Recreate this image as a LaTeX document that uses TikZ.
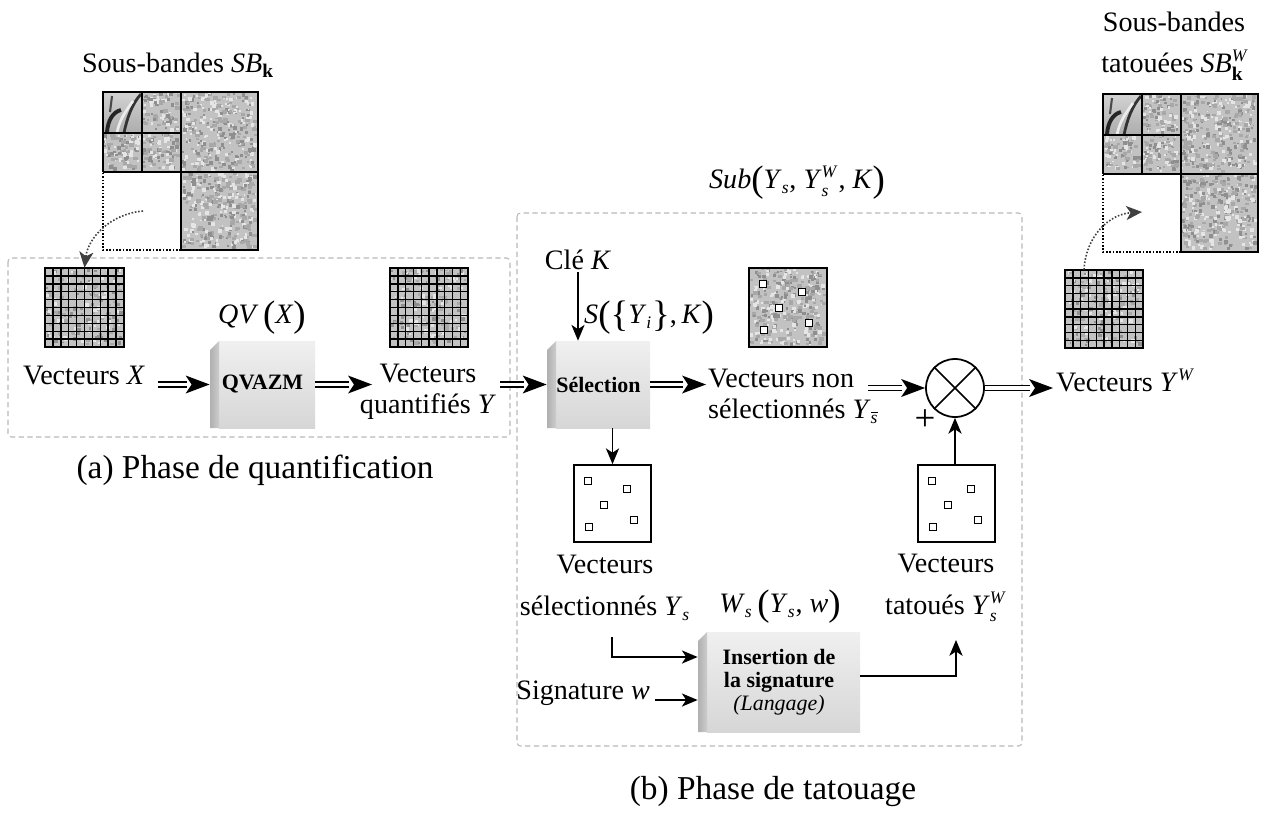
\documentclass[tikz,border=0pt]{standalone}
\usepackage{fontspec}
\setmainfont{Liberation Serif}
\usetikzlibrary{arrows.meta,calc}

\newcommand\tsm[1]{\mbox{\fontsize{10}{10}\selectfont\textit{#1}}}
\newcommand\kbf{\mbox{\fontsize{11}{11}\selectfont\bfseries k}}
\newcommand\BP[1]{{\fontsize{21}{21}\selectfont\raisebox{-0.08em}{#1}}}
\newcommand\iY{\mbox{\textit{Y}}}
\newcommand\Ys{$\iY_{\tsm{s}}$}
\newcommand\Ysb{$\iY_{\overline{\tsm{s}}}$}
\newcommand\YsW{$\iY^{\tsm{W}}_{\tsm{s}}$}
\newcommand\YW{$\iY^{\tsm{W}}$}

\tikzset{
  dashbox/.style={draw=gray!55, line width=0.6pt, dash pattern=on 3pt off 2pt, rounded corners=2pt},
  dline/.style={draw=black, double=white, double distance=2.2pt, line width=0.8pt, shorten >=13pt},
  sarrow/.style={-{Stealth[length=9pt,width=7.5pt,inset=2.5pt]}, line width=0.8pt},
  dotarrow/.style={densely dotted, draw=black!75, line width=0.9pt, -{Stealth[length=9pt,width=8pt,inset=2.5pt]}},
  lbl/.style={inner sep=1pt},
  box3d/.style={inner sep=0pt, font=\fontsize{12.5}{13}\selectfont\bfseries, align=center},
  anchorbox/.style={inner sep=0pt, draw=none},
  whitebox/.style={draw, line width=1pt, fill=white, inner sep=0pt, minimum size=1.54cm},
  captionlbl/.style={font=\fontsize{19}{22}\selectfont, inner sep=1pt}
}

% double arrow pointing right: double shaft + filled concave head
\newcommand\dblarrow[2]{\draw[dline] (#1) -- (#2);
  \fill ($(#2)+(-24,-9)$) -- (#2) -- ($(#2)+(-24,9)$) -- ($(#2)+(-18,0)$) -- cycle;}

\newcommand\noisefill[5]{%
  \fill[gray!48] (#1,#2) rectangle (#3,#4);
  \foreach \k in {1,...,#5}{%
    \pgfmathsetmacro\nxa{#1+rnd*(#3-#1-4)}%
    \pgfmathsetmacro\nya{#2+rnd*(#4-#2-4)}%
    \pgfmathsetmacro\nsa{1.5+rnd*2.5}%
    \fill[gray!88] (\nxa,\nya) rectangle ++(\nsa,\nsa);
    \pgfmathsetmacro\nxb{#1+rnd*(#3-#1-4)}%
    \pgfmathsetmacro\nyb{#2+rnd*(#4-#2-4)}%
    \fill[gray!20] (\nxb,\nyb) rectangle ++(\nsa,\nsa);
    \pgfmathsetmacro\nxc{#1+rnd*(#3-#1-4)}%
    \pgfmathsetmacro\nyc{#2+rnd*(#4-#2-4)}%
    \fill[gray!68] (\nxc,\nyc) rectangle ++(\nsa+1,\nsa);
  }%
}

\newcommand\gridimg[4]{%
  \noisefill{#1}{#2}{#3}{#4}{60}
  \foreach \i in {1,...,9}{%
    \draw[line width=0.8pt] ({#1+\i*(#3-#1)/10},#2) -- ({#1+\i*(#3-#1)/10},#4);
    \draw[line width=0.8pt] (#1,{#2+\i*(#4-#2)/10}) -- (#3,{#2+\i*(#4-#2)/10});
  }
  \draw[line width=1.1pt] (#1,#2) rectangle (#3,#4);
}

\newcommand\sqpat[2]{%
  \begin{scope}[shift={(#1,#2)}]
    \foreach \a/\b in {14/16,53/24,30/40,60/55,15/62}
      \draw[fill=white, line width=0.75pt] (\a-3.5,\b-3.5) rectangle ++(7,7);
  \end{scope}
}

\newcommand\subbandpic{%
  \noisefill{142}{92}{181}{133}{30}
  \noisefill{103}{133}{142}{172}{30}
  \noisefill{142}{133}{181}{172}{30}
  \noisefill{181}{92}{258}{172}{110}
  \noisefill{181}{172}{258}{250}{110}
  \shade[top color=gray!35,bottom color=gray!65] (103,92) rectangle (142,133);
  \draw[line width=2.2pt,black!85] (107,132) .. controls (108,120) and (113,112) .. (121,110);
  \draw[line width=1.6pt,black!80] (124,133) .. controls (127,118) and (132,104) .. (141,94);
  \draw[line width=1.5pt,white!85!gray] (117,133) .. controls (119,121) and (125,112) .. (133,101);
  \draw[line width=1.2pt,black!70] (112,96) -- (110,112);
  \draw[line width=1.1pt] (103,172) -- (103,92) -- (258,92) -- (258,250) -- (181,250) -- (181,92);
  \draw[line width=1.1pt] (103,172) -- (258,172);
  \draw[line width=1.1pt] (142,92) -- (142,172);
  \draw[line width=1.1pt] (103,133) -- (181,133);
  \draw[densely dotted, line width=0.9pt] (181,250) -- (103,250) -- (103,172);
}

\newcommand\boxtd[6]{%
  \shade[top color=gray!12, bottom color=gray!32] (#2+9,#3) rectangle (#4,#5);
  \shade[left color=gray!62, right color=gray!40] (#2,#3+9) -- (#2+9,#3) -- (#2+9,#5) -- (#2,#5) -- cycle;
  \node[box3d, minimum width={(#4-#2)*0.02cm}, minimum height={(#5-#3)*0.02cm}] (#1) at ({(#2+#4)/2},{(#3+#5)/2}) {#6};
}

\begin{document}
\begin{tikzpicture}[x=0.02cm,y=-0.02cm, font=\fontsize{16}{19}\selectfont]
\useasboundingbox (0,0) rectangle (1262,815);
\fill[white] (0,0) rectangle (1262,815);
\pgfmathsetseed{11}

% dashed phase boxes
\draw[dashbox] (8,258) rectangle (510,437);
\draw[dashbox] (517,213) rectangle (1022,746);

% ---------- left sub-bands ----------
\subbandpic
\node[anchorbox, minimum width=3.1cm, minimum height=3.16cm] (sbA) at (180.5,171) {};
\node[lbl] (labA) at (178,65) {Sous-bandes $\mbox{\textit{SB}}_{\kbf}$};

% ---------- quantisation ----------
\gridimg{45}{268}{124}{347}
\node[anchorbox, minimum size=1.58cm] (gX) at (84.5,307.5) {};
\node[lbl] (tX) at (84,376) {Vecteurs \textit{X}};
\node[lbl] (qvl) at (262,318) {\textit{QV}\,\BP{(}\textit{X}\BP{)}};
\boxtd{qv}{210}{341}{315}{428}{QVAZM}
\gridimg{390}{268}{468}{347}
\node[anchorbox, minimum size=1.57cm] (gY) at (429,307.5) {};
\node[lbl, align=center, font=\fontsize{16}{17.6}\selectfont] (tY) at (428,392) {Vecteurs\\quantifiés \textit{Y}};
\node[captionlbl] (capA) at (255,470) {(a) Phase de quantification};

% ---------- watermarking ----------
\node[lbl] (subl) at (797,183) {\textit{Sub}\BP{(}\Ys, \YsW, \textit{K}\BP{)}};
\node[lbl] (cle) at (578,260) {Clé \textit{K}};
\node[lbl] (sl) at (649,318) {\textit{S}\BP{(}\BP{\{}\textit{Y}$_{\tsm{i}}$\BP{\}},\,\textit{K}\BP{)}};
\boxtd{sel}{547}{341}{650}{428}{Sélection}

\noisefill{749}{268}{827}{347}{110}
\draw[line width=1.1pt] (749,268) rectangle (827,347);
\sqpat{749}{268}
\node[anchorbox, minimum width=1.56cm, minimum height=1.58cm] (nimg) at (788,307.5) {};
\node[lbl, anchor=west, align=left, font=\fontsize{16}{18}\selectfont] (tns) at (706,396) {Vecteurs non\\sélectionnés \Ysb};

\node[circle, draw, line width=1pt, minimum size=1.16cm, inner sep=0pt] (ot) at (955,388) {};
\draw[line width=0.9pt] (ot.north west) -- (ot.south east) (ot.north east) -- (ot.south west);
\node[lbl, font=\fontsize{21}{21}\selectfont] (plus) at (925,420) {+};

\node[whitebox] (smL) at (612.5,503.5) {};
\sqpat{574}{465}
\node[whitebox] (smR) at (956.5,503.5) {};
\sqpat{918}{465}

\node[lbl, align=center, font=\fontsize{16}{24}\selectfont] (tvs) at (605,588) {Vecteurs\\sélectionnés \Ys};
\node[lbl, align=center, font=\fontsize{16}{24}\selectfont] (tvw) at (946,588) {Vecteurs\\tatoués \YsW};
\node[lbl] (wsl) at (780,607) {\textit{W}$_{\tsm{s}}$\,\BP{(}\Ys, \textit{w}\BP{)}};

\boxtd{ins}{698}{632}{860}{732}{Insertion de\\la signature\\{\mdseries\itshape (Langage)}}
\node[lbl, anchor=east] (sig) at (652,693) {Signature \textit{w}};

% ---------- right side ----------
\gridimg{1065}{270}{1143}{348}
\node[anchorbox, minimum size=1.56cm] (gW) at (1104,309) {};
\node[lbl, anchor=west] (tyw) at (1054,380) {Vecteurs \YW};
\begin{scope}[shift={(1000,2)}]
  \subbandpic
\end{scope}
\node[anchorbox, minimum width=3.1cm, minimum height=3.16cm] (sbW) at (1180.5,173) {};
\node[lbl] (labW1) at (1174,22) {Sous-bandes};
\node[lbl] (labW2) at (1175,65) {tatouées $\mbox{\textit{SB}}^{\tsm{W}}_{\kbf}$};

\node[captionlbl] (capB) at (773,792) {(b) Phase de tatouage};

% ---------- connectors ----------
\coordinate (a1s) at (158,384.5);
\coordinate (a2e) at (372,384.5);
\coordinate (a3s) at (500,384.5);
\coordinate (a4e) at (706,384.5);
\coordinate (a5s) at (868,388);
\coordinate (a6e) at (1053,388);
\dblarrow{a1s}{qv.west}
\dblarrow{qv.east}{a2e}
\dblarrow{a3s}{sel.west}
\dblarrow{sel.east}{a4e}
\dblarrow{a5s}{ot.west}
\dblarrow{ot.east}{a6e}

\draw[sarrow] (cle.south) -- (cle.south |- sel.north);
\draw[sarrow] (smL.north |- sel.south) -- (smL.north);
\draw[sarrow] (ot.south |- smR.north) -- (ot.south);

\coordinate (l1) at (612,637);
\coordinate (l2) at ($(ins.west)+(0,-25)$);
\draw[sarrow] (l1) |- (l2);
\coordinate (s1) at (655,700);
\draw[sarrow] (s1) -- (s1 -| ins.west);
\coordinate (o1) at ($(ins.east)+(0,-6)$);
\coordinate (upend) at (956,640);
\draw[sarrow] (o1) -| (upend);

\coordinate (dA) at (143,211);
\draw[dotarrow] (dA) .. controls (110,214) and (88,238) .. (gX.north);
\coordinate (dW0) at ($(gW.north)+(-20,0)$);
\coordinate (dW) at (1142,212);
\draw[dotarrow] (dW0) .. controls (1086,235) and (1110,214) .. (dW);
\end{tikzpicture}
\end{document}
